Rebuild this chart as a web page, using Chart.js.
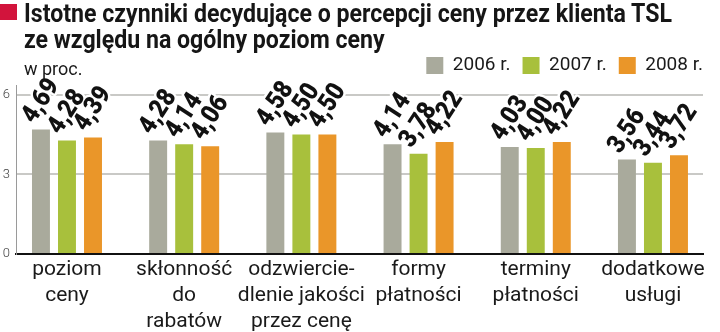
<!DOCTYPE html>
<html>
<head>
<meta charset="utf-8">
<script src="https://cdn.jsdelivr.net/npm/chart.js@4.4.1/dist/chart.umd.min.js"></script>
<style>
  html, body { margin: 0; padding: 0; background: #fff; }
  #wrap { position: relative; width: 720px; height: 332px; overflow: hidden; }
  #chart { position: absolute; left: 0; top: 0; }
  #mark { position: absolute; left: 0; top: 4px; width: 17px; height: 16px; background: #d2143c; }
  #title { position: absolute; left: 24px; top: 0; font-family: Roboto, "Noto Sans", sans-serif;
           font-weight: 700; font-size: 26px; line-height: 26px; color: #161616; }
  #title .tl { white-space: nowrap; transform-origin: 0 0; }
  #unit { position: absolute; left: 24px; top: 58px; font-family: Roboto, "Noto Sans", sans-serif;
          font-size: 18px; line-height: 22px; color: #1a1a1a; }
</style>
</head>
<body>
<div id="wrap">
  <canvas id="chart" width="720" height="332"></canvas>
  <div id="mark"></div>
  <div id="title">
    <div class="tl" id="t1">Istotne czynniki decydujące o percepcji ceny przez klienta TSL</div>
    <div class="tl" id="t2">ze względu na ogólny poziom ceny</div>
  </div>
  <div id="unit">w proc.</div>
</div>
<script>
// Factors shaping how TSL clients perceive price, mean scores per year
const categories = [
  ['poziom', 'ceny'],
  ['skłonność', 'do', 'rabatów'],
  ['odzwiercie-', 'dlenie jakości', 'przez cenę'],
  ['formy', 'płatności'],
  ['terminy', 'płatności'],
  ['dodatkowe', 'usługi']
];
const years = ['2006 r.', '2007 r.', '2008 r.'];
const values2006 = [4.69, 4.28, 4.58, 4.14, 4.03, 3.56];
const values2007 = [4.28, 4.14, 4.50, 3.78, 4.00, 3.44];
const values2008 = [4.39, 4.06, 4.50, 4.22, 4.22, 3.72];
const yTicks = [0, 3, 6];
const colors = ['#a9aa9c', '#a8c03c', '#ea9629'];

// Condense the headline to the column width
(function fitTitle() {
  const t1 = document.getElementById('t1');
  const t2 = document.getElementById('t2');
  const r = document.createRange();
  r.selectNodeContents(t1);
  const w = r.getBoundingClientRect().width;
  const s = 648 / w;
  t1.style.transform = 'scaleX(' + s + ')';
  t2.style.transform = 'scaleX(' + s + ')';
})();

const fmt = v => v.toFixed(2).replace('.', ',');
const toPoints = arr => arr.map((v, i) => ({ x: i, y: v }));

// Slanted, slightly condensed value labels with a white halo above each bar
const valueLabels = {
  id: 'valueLabels',
  afterDatasetsDraw(chart) {
    const ctx = chart.ctx;
    const items = [];
    chart.data.datasets.forEach((ds, di) => {
      chart.getDatasetMeta(di).data.forEach((bar, i) => {
        items.push({ x: bar.x - bar.width / 2 + 2, y: bar.y - 5, t: fmt(ds.data[i].y) });
      });
    });
    ctx.save();
    ctx.font = '900 26px Roboto, sans-serif';
    ctx.textAlign = 'left';
    ctx.textBaseline = 'alphabetic';
    ctx.lineJoin = 'round';
    const angle = -57 * Math.PI / 180;
    for (const pass of ['stroke', 'fill']) {
      items.forEach(it => {
        ctx.save();
        ctx.translate(it.x, it.y);
        ctx.rotate(angle);
        ctx.scale(0.9, 1);
        if (pass === 'stroke') {
          ctx.strokeStyle = '#fff';
          ctx.lineWidth = 5;
          ctx.strokeText(it.t, 0, 0);
        } else {
          ctx.fillStyle = '#111';
          ctx.fillText(it.t, 0, 0);
        }
        ctx.restore();
      });
    }
    ctx.restore();
  }
};

new Chart(document.getElementById('chart'), {
  type: 'bar',
  data: {
    datasets: [
      { label: years[0], data: toPoints(values2006), backgroundColor: colors[0] },
      { label: years[1], data: toPoints(values2007), backgroundColor: colors[1] },
      { label: years[2], data: toPoints(values2008), backgroundColor: colors[2] }
    ]
  },
  options: {
    responsive: false,
    animation: false,
    devicePixelRatio: 1,
    categoryPercentage: 0.666,
    barPercentage: 0.69,
    layout: { padding: { top: 44, right: 5, left: 0, bottom: -6 } },
    plugins: {
      tooltip: { enabled: false },
      legend: {
        position: 'top',
        align: 'end',
        labels: {
          boxWidth: 17,
          boxHeight: 17,
          padding: 12,
          color: '#1a1a1a',
          font: { family: 'Roboto, sans-serif', size: 19 }
        }
      }
    },
    scales: {
      x: {
        type: 'linear',
        offset: false,
        min: -0.435,
        max: 5.427,
        grid: { display: false, drawTicks: false, offset: false },
        border: { display: true, color: '#111', width: 2 },
        afterBuildTicks: scale => { scale.ticks = categories.map((c, i) => ({ value: i })); },
        ticks: {
          autoSkip: false,
          maxRotation: 0,
          padding: 3,
          color: '#1a1a1a',
          font: { family: 'Roboto, sans-serif', size: 21, lineHeight: '26px' },
          callback: v => categories[v]
        }
      },
      y: {
        min: 0,
        max: 6.37,
        afterBuildTicks: scale => { scale.ticks = yTicks.map(v => ({ value: v })); },
        afterFit: scale => { scale.width = 16; },
        grid: {
          drawTicks: false,
          lineWidth: 2,
          color: ctx => (ctx.tick && ctx.tick.value === 0) ? 'rgba(0,0,0,0)' : '#c9c9c6'
        },
        border: { display: true, color: '#9a9a9a', width: 1 },
        ticks: {
          padding: 6,
          color: '#444',
          font: { family: 'Roboto, sans-serif', size: 13, weight: '300' }
        }
      },
      // empty right-hand gutter so the plot ends short of the legend edge
      gutter: {
        type: 'linear',
        position: 'right',
        display: true,
        grid: { display: false, drawTicks: false },
        border: { display: false },
        ticks: { display: false },
        afterFit: scale => { scale.width = 12; }
      }
    }
  },
  plugins: [valueLabels]
});
</script>
</body>
</html>
